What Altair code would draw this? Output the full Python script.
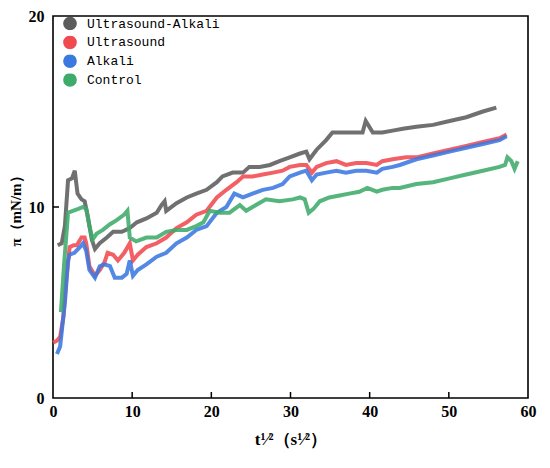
import altair as alt
import pandas as pd

# ---- data ----
ua_x = [0.6, 1.1, 1.5, 1.9, 2.4, 2.75, 3.1, 3.6, 4.0, 4.4, 4.9, 5.3, 5.9, 6.8, 7.6, 8.7, 9.7, 10.6,
        11.8, 13.1, 13.7, 14.1, 14.3, 15.6, 16.9, 18.1, 19.4, 20.7, 21.4, 22.7, 24.0, 24.8, 26.1, 27.4,
        28.6, 29.9, 31.2, 32.0, 32.4, 33.3, 34.5, 35.3, 36.6, 37.9, 39.1, 39.5, 40.4, 41.6, 42.9, 44.2,
        45.9, 48.0, 50.1, 52.2, 54.3, 56.0]
ua_y = [8.0, 8.1, 9.0, 11.4, 11.5, 11.9, 10.7, 10.4, 10.3, 9.5, 8.3, 7.8, 8.1, 8.4, 8.7, 8.7, 8.9, 9.2,
        9.4, 9.7, 10.1, 10.3, 9.8, 10.2, 10.5, 10.7, 10.9, 11.3, 11.6, 11.8, 11.8, 12.1, 12.1, 12.2,
        12.4, 12.6, 12.8, 12.9, 12.5, 13.0, 13.5, 13.9, 13.9, 13.9, 13.9, 14.5, 13.9, 13.9, 14.0, 14.1,
        14.2, 14.3, 14.5, 14.7, 15.0, 15.2]

us_x = [0.0, 0.5, 0.9, 1.3, 1.7, 2.1, 2.6, 3.0, 3.6, 4.0, 4.2, 4.6, 5.3, 5.9, 6.5, 6.9, 7.6, 8.2, 9.0,
        9.7, 10.1, 10.7, 11.8, 13.1, 14.3, 15.6, 16.9, 18.1, 19.4, 20.7, 21.9, 23.2, 24.0, 25.2, 26.5,
        27.8, 29.0, 29.9, 31.2, 32.0, 32.7, 33.3, 34.5, 35.8, 37.0, 38.3, 39.6, 40.9, 41.6, 42.9, 44.6,
        45.9, 48.0, 50.1, 52.2, 54.3, 56.4, 57.3]
us_y = [2.9, 3.0, 3.2, 4.2, 6.3, 7.9, 8.0, 8.0, 8.4, 8.4, 8.1, 6.9, 6.4, 6.7, 7.1, 7.6, 7.5, 7.2, 7.6,
        8.1, 7.2, 7.5, 7.9, 8.1, 8.4, 8.9, 9.2, 9.6, 9.8, 10.5, 10.9, 11.3, 11.6, 11.6, 11.7,
        11.8, 11.9, 12.1, 12.2, 12.2, 11.8, 12.1, 12.3, 12.4, 12.2, 12.3, 12.3, 12.2, 12.4, 12.5, 12.6,
        12.6, 12.8, 13.0, 13.2, 13.4, 13.6, 13.8]

al_x = [0.5, 0.9, 1.5, 1.9, 2.1, 2.7, 3.4, 3.8, 4.2, 4.6, 5.3, 5.9, 6.5, 7.2, 7.8, 8.7, 9.3, 9.7, 10.1,
        10.7, 11.8, 13.1, 14.3, 15.6, 16.9, 18.1, 19.4, 20.7, 21.9, 22.9, 24.0, 25.2, 26.5, 27.8, 29.0,
        29.9, 31.2, 32.0, 32.7, 33.3, 34.5, 35.8, 37.0, 38.3, 39.6, 40.9, 41.6, 42.9, 43.8, 45.9, 48.0,
        50.1, 52.2, 54.3, 56.4, 57.3]
al_y = [2.3, 2.7, 5.0, 7.2, 7.5, 7.6, 7.9, 8.1, 7.7, 6.7, 6.3, 6.9, 7.0, 6.9, 6.3, 6.3, 6.5, 7.2, 6.4,
        6.7, 7.0, 7.4, 7.6, 8.1, 8.4, 8.8, 9.0, 9.7, 10.0, 10.7, 10.5, 10.7, 10.9, 11.0, 11.2,
        11.6, 11.8, 11.9, 11.4, 11.7, 11.8, 11.9, 11.8, 11.9, 11.9, 11.8, 12.0, 12.1, 12.2, 12.5, 12.7,
        12.9, 13.1, 13.3, 13.5, 13.7]

ct_x = [1.0, 1.4, 1.9, 2.5, 3.2, 3.8, 4.2, 4.6, 5.0, 5.5, 6.3, 7.2, 8.0, 9.0, 9.4, 9.7, 10.5, 11.8,
        13.1, 14.3, 15.6, 16.9, 18.1, 19.0, 19.8, 21.0, 22.3, 23.6, 24.4, 25.2, 26.9, 28.6, 30.3, 31.2,
        31.8, 32.3, 32.9, 33.7, 34.9, 36.2, 37.4, 38.7, 39.7, 40.9, 41.6, 42.9, 43.8, 45.9, 48.0, 50.1,
        52.2, 54.3, 56.4, 57.1, 57.4, 57.9, 58.3, 58.7]
ct_y = [4.5, 7.0, 9.7, 9.8, 9.9, 10.0, 9.9, 9.0, 8.3, 8.6, 8.8, 9.1, 9.3, 9.6, 9.8, 8.4, 8.2, 8.4,
        8.4, 8.7, 8.8, 8.8, 9.0, 9.2, 9.8, 9.7, 9.7, 10.1, 9.8, 10.0, 10.4, 10.3, 10.4, 10.5,
        10.4, 9.7, 9.9, 10.3, 10.5, 10.6, 10.7, 10.8, 11.0, 10.8, 10.9, 11.0, 11.0, 11.2, 11.3, 11.5,
        11.7, 11.9, 12.1, 12.2, 12.6, 12.4, 12.0, 12.4]

series_names = ["Ultrasound-Alkali", "Ultrasound", "Alkali", "Control"]
series_colors = ["#5c5c5c", "#f04a50", "#3b78e0", "#3dab6a"]
x_ticks = [0, 10, 20, 30, 40, 50, 60]
y_ticks = [0, 10, 20]
inner_x_ticks = [10, 20, 30, 40, 50]
inner_y_ticks = [10]

rows = []
for name, xs, ys in zip(series_names, [ua_x, us_x, al_x, ct_x], [ua_y, us_y, al_y, ct_y]):
    for i, (a, b) in enumerate(zip(xs, ys)):
        rows.append({"series": name, "x": a, "y": b, "i": i})
df = pd.DataFrame(rows)

W, H = 475, 382
SERIF = "Liberation Serif"
TICK = 6

xscale = alt.Scale(domain=[0, 60], nice=False, zero=False)
yscale = alt.Scale(domain=[0, 20], nice=False, zero=False)
cscale = alt.Scale(domain=series_names, range=series_colors)

xaxis = alt.Axis(values=x_ticks, ticks=False, domain=False, grid=False, labelFlush=False,
                 labelFont=SERIF, labelFontWeight="bold", labelFontSize=16, labelColor="black",
                 labelPadding=5, title="t¹⁄²（s¹⁄²）", titleFont=SERIF, titleFontWeight="bold",
                 titleFontSize=17, titleColor="black", titlePadding=12)
yaxis = alt.Axis(values=y_ticks, ticks=False, domain=False, grid=False, labelFlush=False,
                 labelFont=SERIF, labelFontWeight="bold", labelFontSize=16, labelColor="black",
                 labelPadding=9, title="π（mN/m）", titleFont=SERIF, titleFontWeight="bold",
                 titleFontSize=15, titleColor="black", titlePadding=5)

legend = alt.Legend(orient="none", legendX=10, legendY=1, title=None,
                    symbolType="circle", symbolSize=45, symbolStrokeWidth=7,
                    symbolOpacity=1, labelFont="Liberation Mono",
                    labelFontSize=13, labelColor="black", rowPadding=4.8,
                    clipHeight=13, labelOffset=10, padding=0)

lines = alt.Chart(df).mark_line(strokeWidth=4, opacity=0.88).encode(
    x=alt.X("x:Q", scale=xscale, axis=xaxis),
    y=alt.Y("y:Q", scale=yscale, axis=yaxis),
    color=alt.Color("series:N", scale=cscale, sort=series_names, legend=legend),
    detail="series:N",
    order="i:Q",
)

xt_df = pd.DataFrame({"tx": inner_x_ticks})
yt_df = pd.DataFrame({"ty": inner_y_ticks})

xticks_layer = alt.Chart(xt_df).mark_rule(color="black", strokeWidth=1.5).encode(
    x=alt.X("tx:Q", scale=xscale),
    y=alt.value(H),
    y2=alt.value(H - TICK),
)
yticks_layer = alt.Chart(yt_df).mark_rule(color="black", strokeWidth=1.5).encode(
    y=alt.Y("ty:Q", scale=yscale),
    x=alt.value(0),
    x2=alt.value(TICK),
)

chart = (
    alt.layer(lines, xticks_layer, yticks_layer)
    .properties(width=W, height=H, autosize=alt.AutoSizeParams(type="none"),
                padding={"left": 45, "top": 8, "right": 14, "bottom": 52},
                background="white")
    .configure_view(stroke="black", strokeWidth=1.6)
)

chart.save("out.html", embed_options={"renderer": "svg", "actions": False})
